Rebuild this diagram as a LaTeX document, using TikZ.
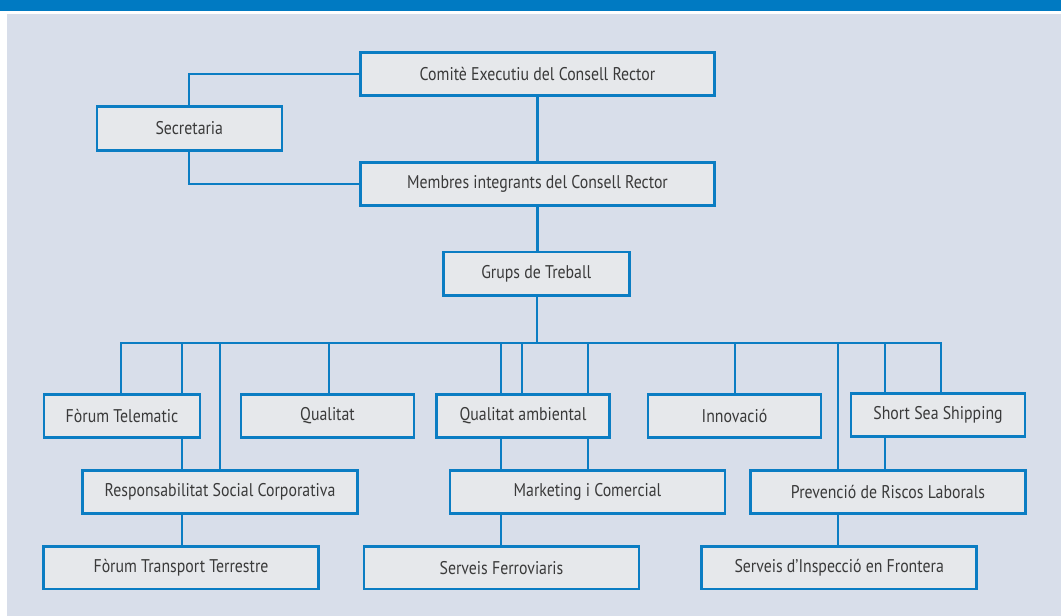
\documentclass[tikz,border=0pt]{standalone}
\usepackage{fontspec}
\setmainfont{PT Sans}[FakeStretch=0.86]
\definecolor{barblue}{HTML}{007AC2}
\definecolor{bgcol}{HTML}{D8DEEA}
\definecolor{boxfill}{HTML}{E6E8EB}
\definecolor{lineblue}{HTML}{0B7DC3}
\definecolor{txt}{HTML}{3A3A3A}
\begin{document}
\begin{tikzpicture}[x=1pt,y=-1pt,
  orgbox/.style={draw=lineblue, line width=2.6pt, fill=boxfill, text=txt,
    font=\fontsize{18.4}{21}\selectfont, inner sep=0pt, minimum height=42.5pt},
  conn/.style={draw=lineblue, line width=2.3pt}]
\useasboundingbox (0,0) rectangle (1061,616);
\fill[white] (0,0) rectangle (1061,616);
\fill[barblue] (0,0) rectangle (1061,11);
\fill[bgcol] (7,14) rectangle (1061,616);

% nodes
\node[orgbox, minimum width=354pt] (comite) at (537.5,74) {Comitè Executiu del Consell Rector};
\node[orgbox, minimum width=185pt, minimum height=43.5pt] (secr) at (189.3,128.5) {Secretaria};
\node[orgbox, minimum width=354pt] (membres) at (537.5,184) {Membres integrants del Consell Rector};
\node[orgbox, minimum width=186pt, minimum height=43.5pt] (grups) at (536.3,273.7) {Grups de Treball};

\node[orgbox, minimum width=156pt] (ftel) at (122,416) {Fòrum Telematic};
\node[orgbox, minimum width=173pt] (qual) at (327.5,416) {Qualitat};
\node[orgbox, minimum width=173pt] (qamb) at (523,416) {Qualitat ambiental};
\node[orgbox, minimum width=173pt] (innov) at (734.5,416) {Innovació};
\node[orgbox, minimum width=174pt] (sss) at (938,415) {Short Sea Shipping};

\node[orgbox, minimum width=275.5pt] (rsc) at (220,492) {Responsabilitat Social Corporativa};
\node[orgbox, minimum width=275pt] (mark) at (587.5,492) {Marketing i Comercial};
\node[orgbox, minimum width=275.5pt] (prev) at (888,492) {Prevenció de Riscos Laborals};

\node[orgbox, minimum width=275.5pt] (ftt) at (181,567.7) {Fòrum Transport Terrestre};
\node[orgbox, minimum width=275pt] (sferr) at (501.5,567.7) {Serveis Ferroviaris};
\node[orgbox, minimum width=275pt] (sinsp) at (839.2,567.7) {Serveis d’Inspecció en Frontera};

% bus coordinates
\coordinate (b1) at (120.7,343.3);
\coordinate (b2) at (181.7,343.3);
\coordinate (b3) at (219.7,343.3);
\coordinate (b4) at (329.3,343.3);
\coordinate (b5) at (501,343.3);
\coordinate (b6) at (521.7,343.3);
\coordinate (b7) at (536.7,343.3);
\coordinate (b8) at (587.7,343.3);
\coordinate (b9) at (734.7,343.3);
\coordinate (b10) at (838,343.3);
\coordinate (b11) at (885.3,343.3);
\coordinate (b12) at (940.8,343.3);

% upper part
\draw[conn] (comite.west) -| (secr.north);
\draw[conn] (secr.south) |- (membres.west);
\draw[conn] (comite.south) -- (membres.north);
\draw[conn] (membres.south) -- (membres.south |- grups.north);
\draw[conn] (grups.south -| b7) -- (b7);
% bus
\draw[conn] (b1 |- ftel.north) -- (b1) -- (b12) -- (b12 |- sss.north);
% drops
\draw[conn] (b2) -- (b2 |- ftel.north);
\draw[conn] (b3) -- (b3 |- rsc.north);
\draw[conn] (b4) -- (b4 |- qual.north);
\draw[conn] (b5) -- (b5 |- qamb.north);
\draw[conn] (b6) -- (b6 |- qamb.north);
\draw[conn] (b8) -- (b8 |- qamb.north);
\draw[conn] (b9) -- (b9 |- innov.north);
\draw[conn] (b10) -- (b10 |- prev.north);
\draw[conn] (b11) -- (b11 |- sss.north);
% second level
\draw[conn] (b2 |- ftel.south) -- (b2 |- rsc.north);
\draw[conn] (b5 |- qamb.south) -- (b5 |- mark.north);
\draw[conn] (b8 |- qamb.south) -- (b8 |- mark.north);
\draw[conn] (b11 |- sss.south) -- (b11 |- prev.north);
% third level
\draw[conn] (b2 |- rsc.south) -- (b2 |- ftt.north);
\draw[conn] (b5 |- mark.south) -- (b5 |- sferr.north);
\draw[conn] (b10 |- prev.south) -- (b10 |- sinsp.north);
\end{tikzpicture}
\end{document}
